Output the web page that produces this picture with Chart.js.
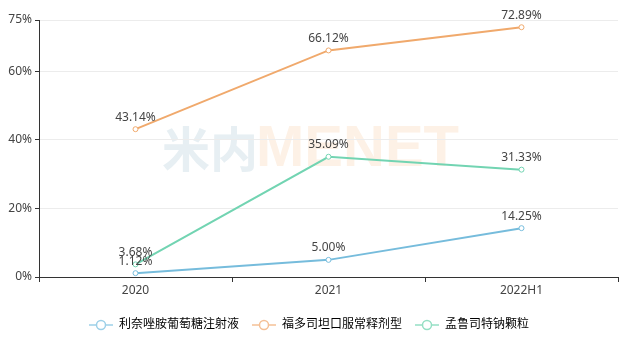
<!DOCTYPE html>
<html>
<head>
<meta charset="utf-8">
<script src="https://cdn.jsdelivr.net/npm/chart.js@4/dist/chart.umd.min.js"></script>
<style>
  html, body { margin: 0; padding: 0; background: #fff; }
  #wrap { width: 628px; height: 341px; }
</style>
</head>
<body>
<div id="wrap"><canvas id="shareChart"></canvas></div>
<script>
const periods = ['2020', '2021', '2022H1'];
const seriesNames = ['利奈唑胺葡萄糖注射液', '福多司坦口服常释剂型', '孟鲁司特钠颗粒'];
const linezolid = [1.12, 5.00, 14.25];
const fudosteine = [43.14, 66.12, 72.89];
const montelukast = [3.68, 35.09, 31.33];
const yTicks = [0, 20, 40, 60, 75];
const seriesColors = ['#76bcdc', '#f0a96c', '#72d4b2'];
const legendColors = ['#9dd0e8', '#f5c096', '#95dfc4'];

const FONT = "'Noto Sans', 'Noto Sans CJK SC', sans-serif";

// small line + hollow circle icon for the legend
function legendIcon(color) {
  const c = document.createElement('canvas');
  c.width = 24;
  c.height = 12;
  const g = c.getContext('2d');
  g.strokeStyle = color;
  g.lineWidth = 1.5;
  g.beginPath();
  g.moveTo(0, 6);
  g.lineTo(24, 6);
  g.stroke();
  g.beginPath();
  g.arc(12, 6, 4.5, 0, Math.PI * 2);
  g.fillStyle = '#fff';
  g.fill();
  g.stroke();
  return c;
}

// faint logo behind the plot
const watermark = {
  id: 'watermark',
  beforeDraw(chart) {
    const ctx = chart.ctx;
    ctx.save();
    ctx.font = "bold 48px 'Noto Sans CJK SC', sans-serif";
    ctx.textBaseline = 'middle';
    ctx.fillStyle = '#e7eff3';
    ctx.fillText('米内', 162, 149);
    ctx.font = "bold 58px 'Liberation Sans', sans-serif";
    ctx.fillStyle = '#fdf1e6';
    ctx.fillText('MENET', 256, 150);
    ctx.restore();
  }
};

// value labels above each point
const pointLabels = {
  id: 'pointLabels',
  afterDatasetsDraw(chart) {
    const ctx = chart.ctx;
    ctx.save();
    ctx.font = '12px ' + FONT;
    ctx.fillStyle = '#444';
    ctx.textAlign = 'center';
    ctx.textBaseline = 'bottom';
    chart.data.datasets.forEach((ds, i) => {
      chart.getDatasetMeta(i).data.forEach((pt, j) => {
        ctx.fillText(ds.data[j].toFixed(2) + '%', pt.x, pt.y - 6);
      });
    });
    ctx.restore();
  }
};

function makeSet(label, data, color) {
  return {
    label: label,
    data: data,
    borderColor: color,
    backgroundColor: '#fff',
    borderWidth: 2,
    pointStyle: 'circle',
    pointRadius: 2.5,
    pointBorderWidth: 1,
    pointBackgroundColor: '#fff',
    pointBorderColor: color,
    tension: 0,
    fill: false
  };
}

const ctx = document.getElementById('shareChart').getContext('2d');
new Chart(ctx, {
  type: 'line',
  data: {
    labels: periods,
    datasets: [
      makeSet(seriesNames[0], linezolid, seriesColors[0]),
      makeSet(seriesNames[1], fudosteine, seriesColors[1]),
      makeSet(seriesNames[2], montelukast, seriesColors[2])
    ]
  },
  options: {
    responsive: true,
    maintainAspectRatio: false,
    animation: false,
    layout: { padding: { top: 20, right: 10, left: 0, bottom: 0 } },
    plugins: {
      tooltip: { enabled: false },
      legend: {
        position: 'bottom',
        labels: {
          usePointStyle: true,
          pointStyleWidth: 24,
          font: { size: 12, family: FONT },
          color: '#444',
          padding: 13,
          boxHeight: 12,
          generateLabels(chart) {
            return chart.data.datasets.map((ds, i) => ({
              text: ds.label,
              pointStyle: legendIcon(legendColors[i]),
              fillStyle: '#fff',
              strokeStyle: legendColors[i],
              lineWidth: 0,
              hidden: false,
              datasetIndex: i
            }));
          }
        }
      }
    },
    scales: {
      x: {
        offset: true,
        grid: {
          offset: true,
          drawOnChartArea: false,
          drawTicks: true,
          tickLength: 5,
          tickColor: '#333'
        },
        border: { color: '#333', width: 1 },
        ticks: {
          color: '#444',
          padding: 1,
          font: { size: 12, family: FONT }
        },
        afterFit(scale) { scale.height = 29; }
      },
      y: {
        min: 0,
        max: 75,
        afterBuildTicks(scale) {
          scale.ticks = yTicks.map(v => ({ value: v }));
        },
        afterFit(scale) { scale.width = 39; },
        grid: {
          color: '#ececec',
          tickColor: '#333',
          tickLength: 4
        },
        border: { color: '#333', width: 1 },
        ticks: {
          color: '#444',
          padding: 3,
          font: { size: 12, family: FONT },
          callback: v => v + '%'
        }
      }
    }
  },
  plugins: [watermark, pointLabels]
});
</script>
</body>
</html>
